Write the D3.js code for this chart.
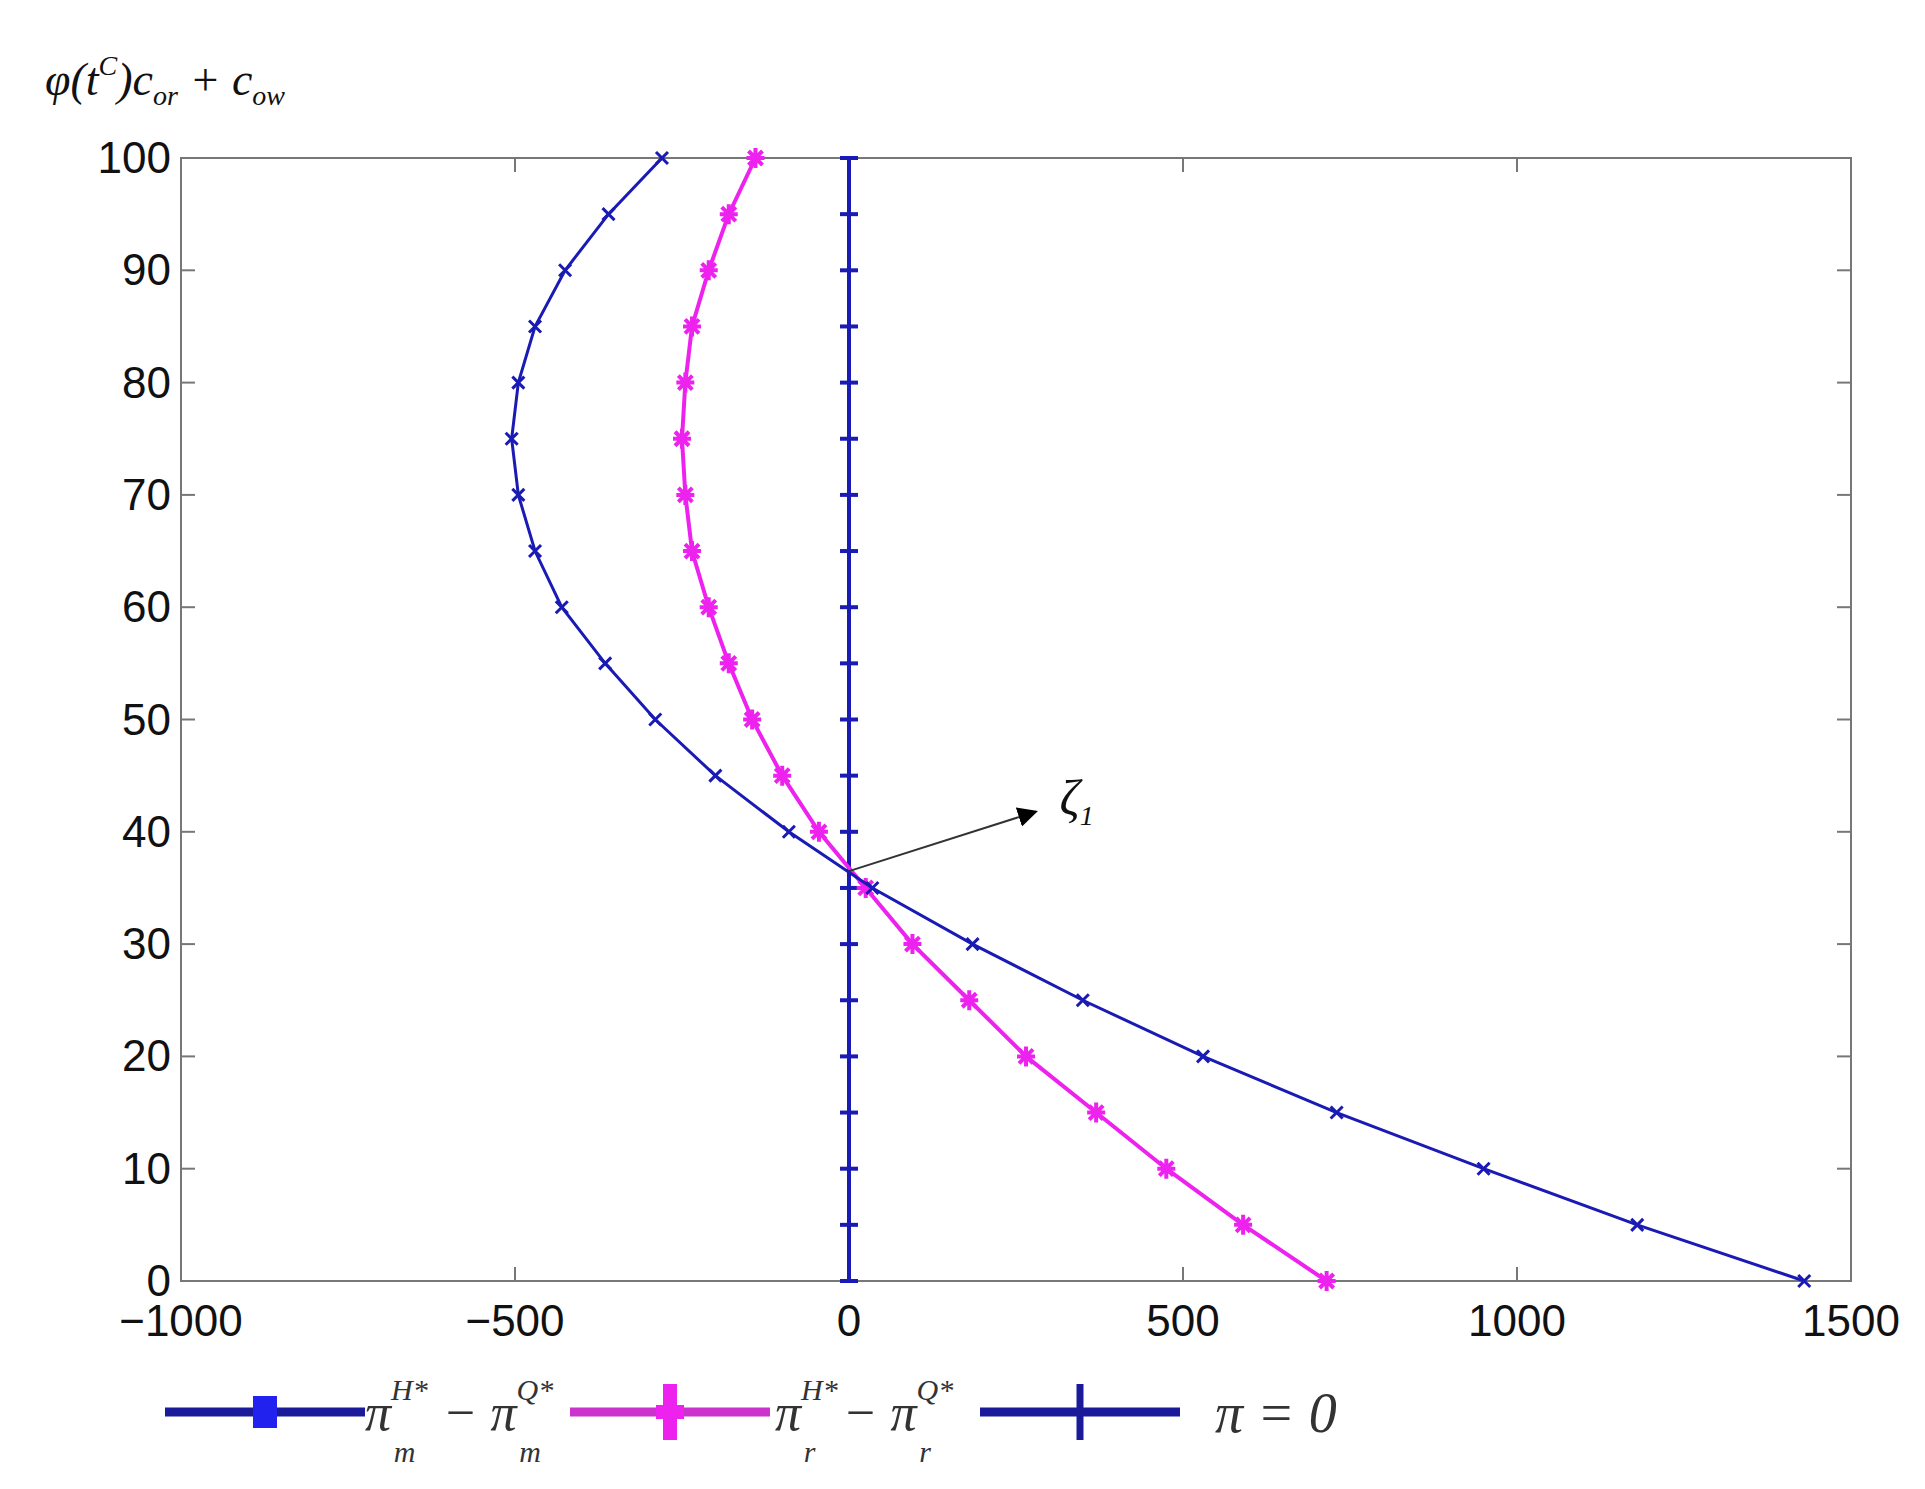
<!DOCTYPE html>
<html>
<head>
<script src="https://d3js.org/d3.v7.min.js"></script>
<style>
body { margin: 0; background: #fff; }
text { font-family: "Liberation Sans", Arial, sans-serif; }
.math { font-family: "Liberation Serif", "Times New Roman", serif; font-style: italic; }
</style>
</head>
<body>
<svg id="chart" width="1925" height="1489"></svg>
<script>
const blue = "#1a1ab4";
const magenta = "#ee22ee";

const levels = [0,5,10,15,20,25,30,35,40,45,50,55,60,65,70,75,80,85,90,95,100];
const diffM = [1430,1180,950,730,530,350,185,35,-90,-200,-290,-365,-430,-470,-495,-505,-495,-470,-425,-360,-280];
const diffR = [715,590,475,370,265,180,95,25,-45,-100,-145,-180,-210,-235,-245,-250,-245,-235,-210,-180,-140];
const zeroLine = levels.map(() => 0);
const xTicks = [-1000,-500,0,500,1000,1500];
const yTicks = [0,10,20,30,40,50,60,70,80,90,100];

const svg = d3.select("#chart");
const pLeft = 181, pRight = 1851, pTop = 158, pBottom = 1281;

const x = d3.scaleLinear().domain([-1000, 1500]).range([pLeft, pRight]);
const y = d3.scaleLinear().domain([0, 100]).range([pBottom, pTop]);

// frame
svg.append("rect").attr("x", pLeft).attr("y", pTop)
   .attr("width", pRight - pLeft).attr("height", pBottom - pTop)
   .attr("fill", "none").attr("stroke", "#777").attr("stroke-width", 2);

// ticks (inside, both sides)
xTicks.forEach(t => {
  svg.append("line").attr("x1", x(t)).attr("x2", x(t)).attr("y1", pBottom).attr("y2", pBottom - 14).attr("stroke", "#777").attr("stroke-width", 2);
  svg.append("line").attr("x1", x(t)).attr("x2", x(t)).attr("y1", pTop).attr("y2", pTop + 14).attr("stroke", "#777").attr("stroke-width", 2);
  svg.append("text").attr("x", x(t)).attr("y", pBottom + 55).attr("text-anchor", "middle")
     .attr("font-size", 44).attr("fill", "#111").text(t < 0 ? "\u2212" + Math.abs(t) : t);
});
yTicks.forEach(t => {
  svg.append("line").attr("x1", pLeft).attr("x2", pLeft + 14).attr("y1", y(t)).attr("y2", y(t)).attr("stroke", "#777").attr("stroke-width", 2);
  svg.append("line").attr("x1", pRight).attr("x2", pRight - 14).attr("y1", y(t)).attr("y2", y(t)).attr("stroke", "#777").attr("stroke-width", 2);
  svg.append("text").attr("x", pLeft - 10).attr("y", y(t) + 15).attr("text-anchor", "end")
     .attr("font-size", 44).attr("fill", "#111").text(t);
});

// y label
const yl = svg.append("text").attr("class", "math").attr("x", 45).attr("y", 95).attr("font-size", 46).attr("fill", "#111");
yl.append("tspan").text("\u03c6(t");
yl.append("tspan").attr("font-size", 28).attr("dy", -20).text("C");
yl.append("tspan").attr("dy", 20).text(")c");
yl.append("tspan").attr("font-size", 28).attr("dy", 10).text("or");
yl.append("tspan").attr("dy", -10).text(" + c");
yl.append("tspan").attr("font-size", 28).attr("dy", 10).text("ow");

const line = d3.line().x(d => x(d[0])).y(d => y(d[1]));

function series(vals, color, width, marker) {
  const pts = vals.map((v, i) => [v, levels[i]]);
  svg.append("path").attr("d", line(pts)).attr("fill", "none").attr("stroke", color).attr("stroke-width", width);
  pts.forEach(p => marker(x(p[0]), y(p[1]), color));
}
function xMark(cx, cy, c) {
  svg.append("path").attr("d", `M${cx-6},${cy-6}L${cx+6},${cy+6}M${cx-6},${cy+6}L${cx+6},${cy-6}`).attr("stroke", c).attr("stroke-width", 3);
}
function starMark(cx, cy, c) {
  svg.append("path").attr("d", `M${cx-9},${cy}L${cx+9},${cy}M${cx},${cy-10}L${cx},${cy+10}M${cx-7},${cy-7}L${cx+7},${cy+7}M${cx-7},${cy+7}L${cx+7},${cy-7}`).attr("stroke", c).attr("stroke-width", 4);
}
function plusMark(cx, cy, c) {
  svg.append("path").attr("d", `M${cx-9},${cy}L${cx+9},${cy}`).attr("stroke", c).attr("stroke-width", 4);
}

series(zeroLine, blue, 4, plusMark);
series(diffR, magenta, 4, starMark);
series(diffM, blue, 3, xMark);

// annotation arrow
svg.append("defs").append("marker").attr("id", "arr").attr("viewBox", "0 0 10 10")
   .attr("refX", 9).attr("refY", 5).attr("markerWidth", 10).attr("markerHeight", 10).attr("orient", "auto")
   .append("path").attr("d", "M0,0L10,5L0,10z").attr("fill", "#000");
svg.append("line").attr("x1", x(0)).attr("y1", y(36.5)).attr("x2", x(280)).attr("y2", y(41.8))
   .attr("stroke", "#333").attr("stroke-width", 2).attr("marker-end", "url(#arr)");
const zl = svg.append("text").attr("class", "math").attr("x", x(315)).attr("y", y(41.5)).attr("font-size", 50).attr("fill", "#111");
zl.append("tspan").text("\u03b6");
zl.append("tspan").attr("font-size", 28).attr("dy", 10).text("1");

// legend
const ly = 1412;
function legItem(x0, color, marker) {
  svg.append("line").attr("x1", x0).attr("x2", x0 + 200).attr("y1", ly).attr("y2", ly).attr("stroke", color).attr("stroke-width", 9);
  marker(x0 + 100, ly, color);
}
legItem(165, "#1a1a9a", (cx, cy, c) => { svg.append("rect").attr("x", cx - 12).attr("y", cy - 16).attr("width", 24).attr("height", 32).attr("fill", "#2222ee"); });
legItem(570, "#cc33cc", (cx, cy, c) => { svg.append("path").attr("d", `M${cx},${cy-28}L${cx},${cy+28}M${cx-14},${cy}L${cx+14},${cy}`).attr("stroke", magenta).attr("stroke-width", 14); });
legItem(980, "#1a1a9a", (cx, cy, c) => { svg.append("line").attr("x1", cx).attr("x2", cx).attr("y1", cy - 28).attr("y2", cy + 28).attr("stroke", "#1a1a9a").attr("stroke-width", 7); });

function legLabel(x0, sub) {
  const t = svg.append("text").attr("class", "math").attr("x", x0).attr("y", ly + 18).attr("font-size", 52).attr("fill", "#333");
  t.append("tspan").text("\u03c0");
  t.append("tspan").attr("font-size", 30).attr("dy", -30).text("H*");
  t.append("tspan").attr("font-size", 30).attr("dx", -34).attr("dy", 62).text(sub);
  t.append("tspan").attr("dy", -32).attr("dx", 14).text(" \u2212 \u03c0");
  t.append("tspan").attr("font-size", 30).attr("dy", -30).text("Q*");
  t.append("tspan").attr("font-size", 30).attr("dx", -34).attr("dy", 62).text(sub);
}
legLabel(365, "m");
legLabel(775, "r");
svg.append("text").attr("class", "math").attr("x", 1215).attr("y", ly + 20).attr("font-size", 56).attr("fill", "#333").text("\u03c0 = 0");
</script>
</body>
</html>
